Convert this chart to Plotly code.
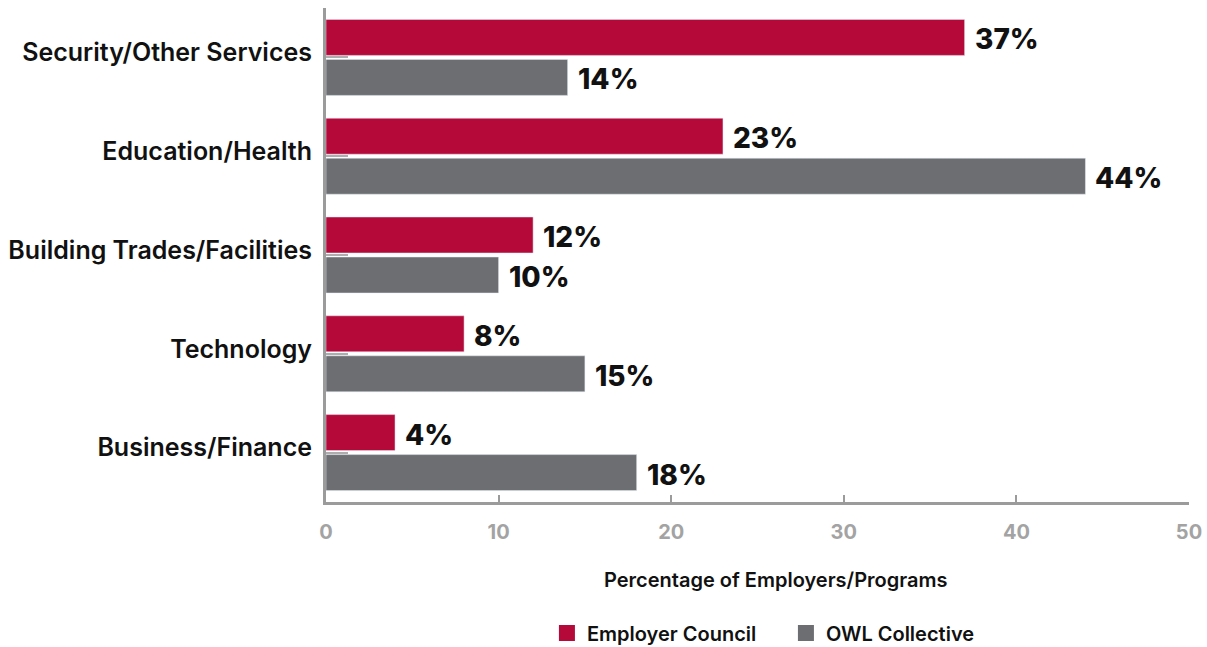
import plotly.graph_objects as go

categories = ["Security/Other Services", "Education/Health", "Building Trades/Facilities", "Technology", "Business/Finance"]
employer_council = [37, 23, 12, 8, 4]
owl_collective = [14, 44, 10, 15, 18]
x_ticks = [0, 10, 20, 30, 40, 50]
x_title = "Percentage of Employers/Programs"

RED = "#B5093A"
GREY = "#6D6E71"
AXIS = "#9B9B9B"
FONT = "Inter"

fig = go.Figure()
fig.add_trace(go.Bar(y=categories, x=employer_council, orientation="h", name="Employer Council",
                     marker_color=RED, showlegend=False))
fig.add_trace(go.Bar(y=categories, x=owl_collective, orientation="h", name="OWL Collective",
                     marker_color=GREY, showlegend=False))
# legend entries
fig.add_trace(go.Scatter(x=[None], y=[None], mode="markers", name="Employer Council",
                         marker=dict(symbol="square", size=17, color=RED)))
fig.add_trace(go.Scatter(x=[None], y=[None], mode="markers", name="OWL Collective",
                         marker=dict(symbol="square", size=17, color=GREY)))

# value labels
ann = []
for i, c in enumerate(categories):
    ann.append(dict(x=employer_council[i], y=c, text=f"{employer_council[i]}%", xref="x", yref="y",
                    xanchor="left", yanchor="middle", xshift=8, yshift=18, showarrow=False,
                    font=dict(family=FONT, size=28, color="#111111", weight=800)))
    ann.append(dict(x=owl_collective[i], y=c, text=f"{owl_collective[i]}%", xref="x", yref="y",
                    xanchor="left", yanchor="middle", xshift=8, yshift=-22, showarrow=False,
                    font=dict(family=FONT, size=28, color="#111111", weight=800)))
# axis title
ann.append(dict(x=0.522, y=-0.158, xref="paper", yref="paper", text=x_title, showarrow=False,
                xanchor="center", yanchor="middle",
                font=dict(family=FONT, size=20, color="#111111", weight=600)))

fig.update_layout(
    width=1207, height=647,
    margin=dict(l=326, r=18, t=8, b=145, autoexpand=False),
    paper_bgcolor="white", plot_bgcolor="white",
    barmode="group", bargap=0.19, bargroupgap=0.1,
    font=dict(family=FONT, color="#111111"),
    annotations=ann,
    legend=dict(orientation="h", x=0.256, xanchor="left", y=-0.265, yanchor="middle",
                font=dict(family=FONT, size=20, color="#111111", weight=600),
                itemwidth=30, tracegroupgap=0, entrywidth=194, entrywidthmode="pixels"),
    xaxis=dict(range=[0, 50], tickvals=x_ticks, showgrid=False, zeroline=False,
               showline=True, linecolor=AXIS, linewidth=3, automargin=False,
               ticks="inside", ticklen=7, tickwidth=2, tickcolor=AXIS,
               ticklabelstandoff=10,
               tickfont=dict(family=FONT, size=20, color="#A3A3A3", weight=700)),
    yaxis=dict(categoryorder="array", categoryarray=categories, autorange="reversed",
               showgrid=False, zeroline=False, showline=True, linecolor=AXIS, linewidth=3,
               automargin=False,
               ticks="inside", ticklen=22, tickwidth=2, tickcolor="#ADADAD",
               ticklabelstandoff=6, ticklabelshift=5,
               tickfont=dict(family=FONT, size=25, color="#111111", weight=600)),
)

fig.write_html("out.html")
